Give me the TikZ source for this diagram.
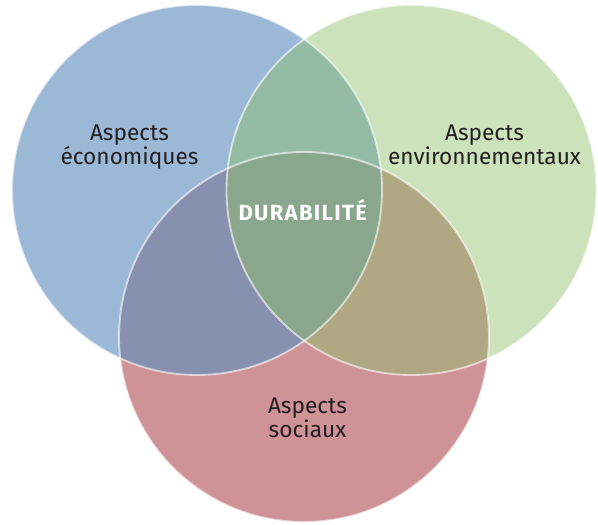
\documentclass[tikz,border=0pt]{standalone}
\usepackage{fontspec}
\setmainfont{Fira Sans}
\usepackage{tikz}
\usetikzlibrary{positioning}
\definecolor{bleu}{RGB}{156,184,215}
\definecolor{vert}{RGB}{204,226,187}
\definecolor{rouge}{RGB}{206,146,151}
\definecolor{bleuvert}{RGB}{148,188,165}
\definecolor{bleurouge}{RGB}{135,144,175}
\definecolor{vertrouge}{RGB}{176,168,131}
\definecolor{centre}{RGB}{138,167,142}
\definecolor{encre}{RGB}{35,31,32}

\begin{document}
\begin{tikzpicture}[x=0.75pt,y=-0.75pt]
    \tikzset{
      aspect/.style={align=center, anchor=base, text=encre, inner sep=0pt,
        font=\fontsize{17}{16.5}\selectfont},
      titre/.style={anchor=base, text=white, inner sep=0pt,
        font=\fontsize{16.5}{18}\selectfont\bfseries\addfontfeature{LetterSpace=6}},
      rim/.style={draw=white, draw opacity=0.6, line width=1.4pt},
    }
    \useasboundingbox (0,0) rectangle (598,524);

    \coordinate (eco) at (197,190);   % economique
    \coordinate (env) at (411.5,190); % environnement
    \coordinate (soc) at (304,337);   % social
    \def\R{185}

    % Circles.
    \fill [bleu]  (eco) circle [radius=\R];
    \fill [vert]  (env) circle [radius=\R];
    \fill [rouge] (soc) circle [radius=\R];

    % Overlaps.
    \begin{scope}
      \clip (eco) circle [radius=\R];
      \fill [bleuvert] (env) circle [radius=\R];
      \fill [bleurouge] (soc) circle [radius=\R];
    \end{scope}
    \begin{scope}
      \clip (env) circle [radius=\R];
      \fill [vertrouge] (soc) circle [radius=\R];
    \end{scope}
    \begin{scope}
      \clip (eco) circle [radius=\R];
      \clip (env) circle [radius=\R];
      \fill [centre] (soc) circle [radius=\R];
    \end{scope}

    % Rims.
    \draw [rim] (eco) circle [radius=\R];
    \draw [rim] (env) circle [radius=\R];
    \draw [rim] (soc) circle [radius=\R];

    % Labels (base = last line).
    \node [aspect] (eco-txt) at (129.5,164.5) {Aspects\\économiques};
    \node [aspect] (env-txt) at (484.5,164.5) {Aspects\\environnementaux};
    \node [aspect] (soc-txt) at (307.5,437.5) {Aspects\\sociaux};
    \node [titre]  (dur-txt) at (302.7,220.7) {DURABILITÉ};

\end{tikzpicture}
\end{document}
